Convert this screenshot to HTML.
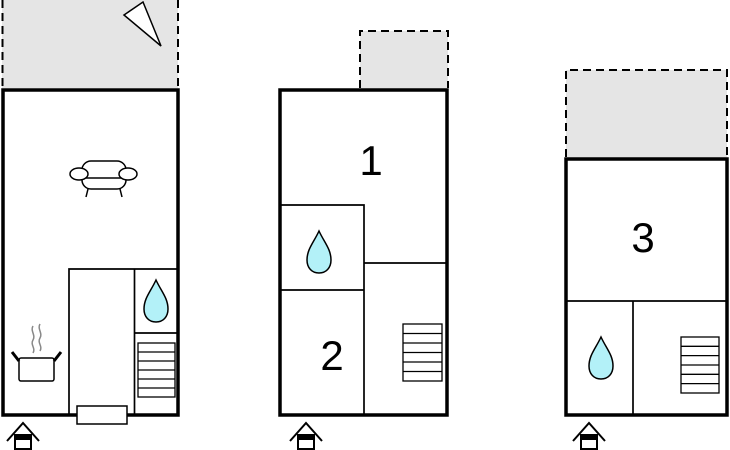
<!DOCTYPE html>
<html><head><meta charset="utf-8"><style>html,body{margin:0;padding:0;background:#fff}svg{display:block}</style></head><body>
<svg width="730" height="450" viewBox="0 0 730 450" xmlns="http://www.w3.org/2000/svg">
<defs>
<g id="drop"><path d="M0,-21 C5,-10 12,-3 12,8 C12,16 7,21 0,21 C-7,21 -12,16 -12,8 C-12,-3 -5,-10 0,-21 Z" fill="#b3f1f8" stroke="#000" stroke-width="1.5"/></g>
<g id="ent" fill="none" stroke="#000" stroke-width="2"><polyline points="-16,8 0,-10 16,8"/><rect x="-8" y="2" width="16" height="14" fill="#fff"/><rect x="-8" y="2" width="16" height="5" fill="#000" stroke="none"/></g>
</defs>
<g stroke="#000" fill="none">
<!-- plan 1 -->
<rect x="2" y="0" width="176" height="88" fill="#e5e5e5" stroke="none"/>
<line x1="2.5" y1="0" x2="2.5" y2="88" stroke-width="2" stroke-dasharray="8,5"/>
<line x1="178" y1="0" x2="178" y2="88" stroke-width="2" stroke-dasharray="8,5"/>
<polygon points="124,15 143,2 161,46" fill="#fff" stroke-width="1.5"/>
<rect x="3" y="90" width="175" height="325" fill="#fff" stroke-width="3.5"/>
<polyline points="69,415 69,269 178,269" stroke-width="1.7"/>
<line x1="134.5" y1="269" x2="134.5" y2="415" stroke-width="1.7"/>
<line x1="134" y1="333" x2="178" y2="333" stroke-width="1.7"/>
<rect x="77" y="406" width="50" height="18" fill="#fff" stroke-width="1.5"/>
<rect x="138" y="343" width="37" height="54" stroke-width="1.3"/>
<path d="M138,352h37M138,361h37M138,370h37M138,379h37M138,388h37" stroke-width="1.3"/>
<!-- sofa -->
<rect x="82" y="161" width="44" height="28" rx="9" fill="#fff" stroke-width="1.5"/>
<line x1="86" y1="178" x2="122" y2="178" stroke-width="1.5"/>
<ellipse cx="79" cy="174" rx="9" ry="6" fill="#fff" stroke-width="1.5"/>
<ellipse cx="128" cy="174" rx="9" ry="6" fill="#fff" stroke-width="1.5"/>
<path d="M88,189L86,197M120,189L122,197" stroke-width="1.5"/>
<!-- pot -->
<rect x="19" y="358" width="35" height="23" rx="2" fill="#fff" stroke-width="1.5"/>
<path d="M12,352L19,361M61,352L54,361" stroke-width="3"/>
<path d="M33,326c-3,5 3,9 0,14c-3,5 3,8 0,13M40,324c-3,5 3,9 0,14c-3,5 3,8 0,13" stroke="#888" stroke-width="1.5"/>
<!-- plan 2 -->
<rect x="360" y="31" width="88" height="58" fill="#e5e5e5" stroke="none"/>
<path d="M360,88V31H448V88" stroke-width="2" stroke-dasharray="8,5"/>
<rect x="280" y="90" width="167" height="325" fill="#fff" stroke-width="3.5"/>
<polyline points="280,205 364,205 364,415" stroke-width="1.7"/>
<line x1="280" y1="290" x2="364" y2="290" stroke-width="1.7"/>
<line x1="364" y1="263" x2="447" y2="263" stroke-width="1.7"/>
<rect x="403" y="324" width="39" height="57" stroke-width="1.3"/>
<path d="M403,333.5h39M403,343h39M403,352.5h39M403,362h39M403,371.5h39" stroke-width="1.3"/>
<!-- plan 3 -->
<rect x="566" y="70" width="161" height="88" fill="#e5e5e5" stroke="none"/>
<path d="M566,157V70H727V157" stroke-width="2" stroke-dasharray="8,5"/>
<rect x="566" y="159" width="161" height="256" fill="#fff" stroke-width="3.5"/>
<line x1="566" y1="301" x2="727" y2="301" stroke-width="1.7"/>
<line x1="633" y1="301" x2="633" y2="415" stroke-width="1.7"/>
<rect x="681" y="337" width="38" height="56" stroke-width="1.3"/>
<path d="M681,346.3h38M681,355.6h38M681,365h38M681,374.3h38M681,383.6h38" stroke-width="1.3"/>
</g>
<use href="#drop" x="156" y="301"/>
<use href="#drop" x="319" y="252"/>
<use href="#drop" x="601" y="358"/>
<use href="#ent" x="23" y="433"/>
<use href="#ent" x="306" y="433"/>
<use href="#ent" x="589" y="433"/>
<g font-family="Liberation Sans, sans-serif" font-size="42" text-anchor="middle" fill="#000">
<text x="371" y="175">1</text>
<text x="332" y="370">2</text>
<text x="643" y="252">3</text>
</g>
</svg>
</body></html>
